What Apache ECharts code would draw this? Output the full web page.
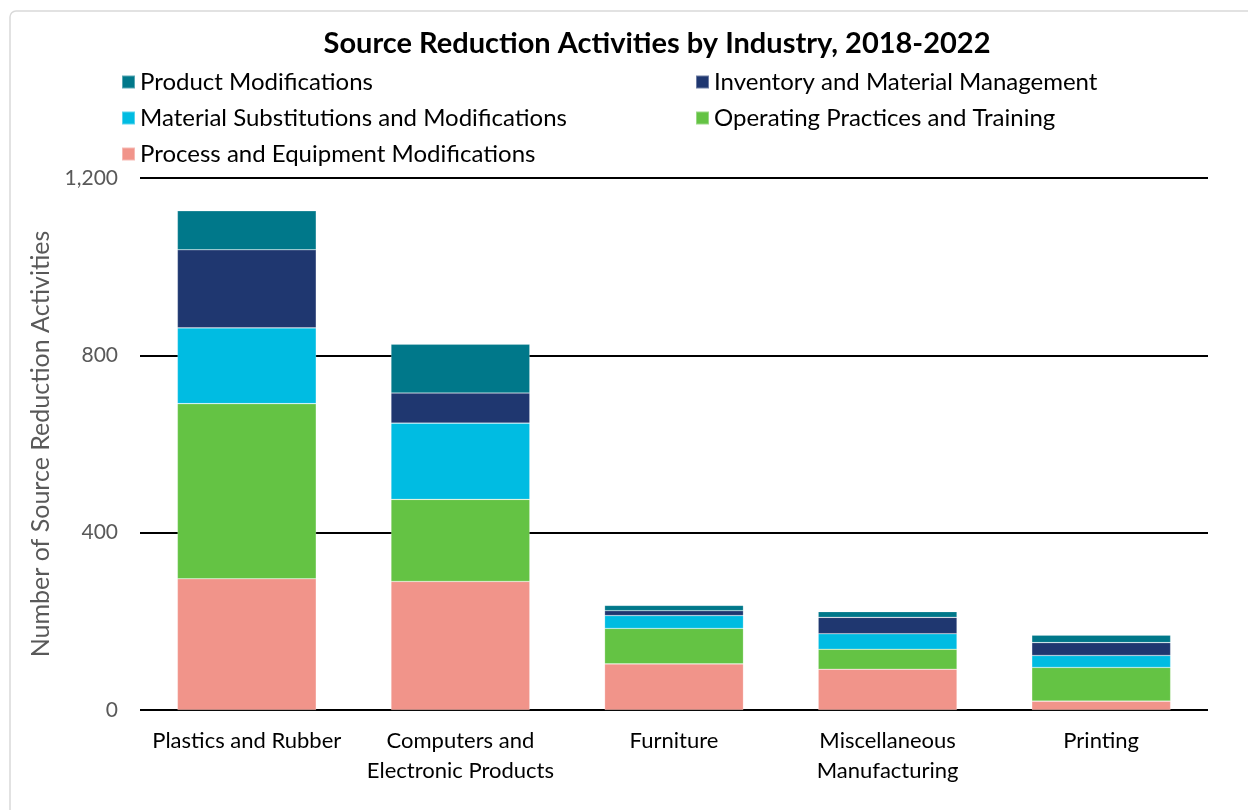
<!DOCTYPE html>
<html>
<head>
<meta charset="utf-8">
<title>Source Reduction Activities by Industry</title>
<script src="https://cdn.jsdelivr.net/npm/echarts@6/dist/echarts.min.js"></script>
<style>
  html, body { margin: 0; padding: 0; background: #fff; }
  #chart { width: 1248px; height: 810px; }
</style>
</head>
<body>
<div id="chart"></div>
<script>
var industries = ['Plastics and Rubber', 'Computers and\nElectronic Products', 'Furniture', 'Miscellaneous\nManufacturing', 'Printing'];

// stacked from bottom to top
var processEquipment = [296, 290, 104, 92, 20];
var operatingPractices = [395, 185, 80, 45, 76];
var materialSubstitutions = [171, 172, 29, 35, 27];
var inventoryManagement = [176, 68, 11, 37, 29];
var productModifications = [88, 110, 12, 13, 17];

var yTicks = [0, 400, 800, 1200];

var chart = echarts.init(document.getElementById('chart'), null, { renderer: 'canvas' });

var font = 'Lato';

function seg(name, data, color) {
  return {
    name: name,
    type: 'bar',
    stack: 'total',
    barCategoryGap: '35%',
    data: data,
    itemStyle: { color: color, borderColor: 'rgba(255,255,255,0.35)', borderWidth: 0.6 }
  };
}

var legendText = { fontFamily: font, fontSize: 24, lineHeight: 24, color: '#000' };

var option = {
  animation: false,
  textStyle: { fontFamily: font },
  graphic: [{
    type: 'rect',
    shape: { x: 10, y: 11, width: 1400, height: 1000, r: 6 },
    style: { fill: 'none', stroke: '#d9d9d9', lineWidth: 1.5 },
    z: -1
  }],
  title: {
    text: 'Source Reduction Activities by Industry, 2018-2022',
    left: 652,
    textAlign: 'center',
    top: 24,
    textStyle: { fontFamily: font, fontSize: 29, fontWeight: 'bold', color: '#000' }
  },
  legend: [{
    left: 116,
    top: 65,
    orient: 'vertical',
    itemWidth: 13,
    itemHeight: 13,
    itemGap: 12,
    icon: 'rect',
    data: ['Product Modifications', 'Material Substitutions and Modifications', 'Process and Equipment Modifications'],
    textStyle: legendText
  }, {
    left: 690,
    top: 65,
    orient: 'vertical',
    itemWidth: 13,
    itemHeight: 13,
    itemGap: 12,
    icon: 'rect',
    data: ['Inventory and Material Management', 'Operating Practices and Training'],
    textStyle: legendText
  }],
  grid: { left: 140, right: 40, top: 178, bottom: 100 },
  xAxis: {
    type: 'category',
    data: industries,
    axisLine: { show: false },
    axisTick: { show: false },
    axisLabel: { fontFamily: font, fontSize: 22, color: '#000', margin: 16, lineHeight: 30, interval: 0 }
  },
  yAxis: {
    type: 'value',
    min: yTicks[0],
    max: yTicks[yTicks.length - 1],
    interval: yTicks[1] - yTicks[0],
    name: 'Number of Source Reduction Activities',
    nameLocation: 'middle',
    nameGap: 86,
    nameTextStyle: { fontFamily: font, fontSize: 25, color: '#595959' },
    axisLine: { show: false },
    axisTick: { show: false },
    splitLine: { lineStyle: { color: '#000', width: 2 } },
    axisLabel: {
      fontFamily: font, fontSize: 21, color: '#595959', margin: 22,
      formatter: function (v) { return v.toLocaleString('en-US'); }
    }
  },
  series: [
    seg('Process and Equipment Modifications', processEquipment, '#f1948a'),
    seg('Operating Practices and Training', operatingPractices, '#64c344'),
    seg('Material Substitutions and Modifications', materialSubstitutions, '#00bce2'),
    seg('Inventory and Material Management', inventoryManagement, '#1f3770'),
    seg('Product Modifications', productModifications, '#00788a')
  ]
};

chart.setOption(option);
window.addEventListener('resize', chart.resize);
</script>
</body>
</html>
